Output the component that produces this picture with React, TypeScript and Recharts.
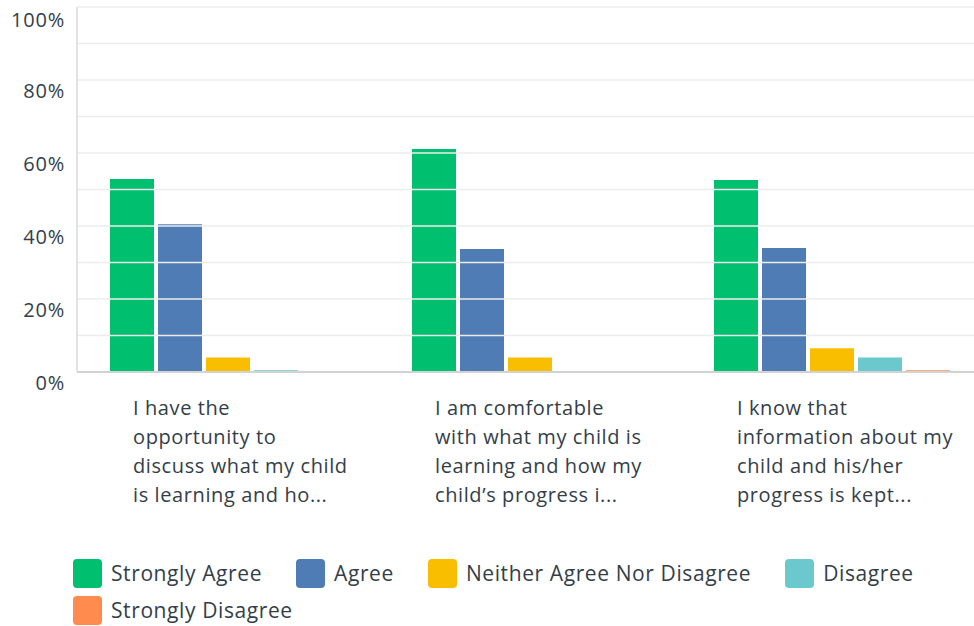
import { Bar, BarChart, CartesianGrid, ReferenceLine, XAxis, YAxis } from "recharts";

const categories = ["q1", "q2", "q3"];

const categoryLines = [
  ["I have the", "opportunity to", "discuss what my child", "is learning and ho..."],
  ["I am comfortable", "with what my child is", "learning and how my", "child’s progress i..."],
  ["I know that", "information about my", "child and his/her", "progress is kept..."],
];

const strongAgree = [52.9, 61.1, 52.6];
const agree = [40.5, 33.7, 34.0];
const neither = [4.0, 4.0, 6.5];
const disagree = [0.5, 0, 4.0];
const strongDisagree = [0, 0, 0.5];

const yTicks = [0, 20, 40, 60, 80, 100];
const gridValues = [10, 20, 30, 40, 50, 60, 70, 80, 90, 100];

const series = [
  { key: "sa", label: "Strongly Agree", color: "#00bf6f", values: strongAgree },
  { key: "a", label: "Agree", color: "#507cb6", values: agree },
  { key: "n", label: "Neither Agree Nor Disagree", color: "#f9be00", values: neither },
  { key: "d", label: "Disagree", color: "#6bc8cd", values: disagree },
  { key: "sd", label: "Strongly Disagree", color: "#ff8b4f", values: strongDisagree },
];

const data = categories.map((cat, i) => {
  const row: Record<string, string | number> = { cat };
  series.forEach((s) => {
    row[s.key] = s.values[i];
  });
  return row;
});

const FONT = "'Open Sans', Lato, sans-serif";
const TEXT = "#333e48";

function XTick({ x, y, payload }: any) {
  const idx = categories.indexOf(payload.value);
  const lines = categoryLines[idx] ?? [];
  return (
    <g>
      {lines.map((line, i) => (
        <text
          key={line}
          x={x - 95}
          y={y + 35 + i * 29}
          fill={TEXT}
          fontSize={20}
          letterSpacing={0.6}
          fontFamily={FONT}
          textAnchor="start"
        >
          {line}
        </text>
      ))}
    </g>
  );
}

function YTick({ y, payload }: any) {
  return (
    <text
      x={65}
      y={y + 10}
      fill={TEXT}
      fontSize={20}
      letterSpacing={0.8}
      fontFamily={FONT}
      textAnchor="end"
      dominantBaseline="central"
    >
      {payload.value}%
    </text>
  );
}

export default function App() {
  return (
    <div
      style={{
        position: "absolute",
        left: 0,
        top: 0,
        width: 974,
        height: 626,
        overflow: "hidden",
        background: "#fff",
      }}
    >
      <BarChart
        width={1000}
        height={626}
        data={data}
        margin={{ top: 7, right: 17, bottom: 0, left: 0 }}
        barSize={44}
        barGap={4}
      >
        <CartesianGrid horizontal={false} vertical={false} />
        {gridValues.map((v) => (
          <ReferenceLine key={`grid-${v}`} y={v} stroke="#ececec" strokeWidth={1.5} />
        ))}
        <XAxis
          dataKey="cat"
          height={254}
          tickLine={false}
          axisLine={{ stroke: "#d3d3d3", strokeWidth: 2 }}
          tick={<XTick />}
          interval={0}
        />
        <YAxis
          width={77}
          domain={[0, 100]}
          ticks={yTicks}
          tickLine={false}
          axisLine={{ stroke: "#dadada", strokeWidth: 1.5 }}
          tick={<YTick />}
        />
        {series.map((s) => (
          <Bar key={s.key} dataKey={s.key} fill={s.color} isAnimationActive={false} />
        ))}
      </BarChart>
      <div
        style={{
          position: "absolute",
          left: 73,
          top: 559,
          width: 880,
          display: "flex",
          flexWrap: "wrap",
          columnGap: 34,
          rowGap: 8,
          fontFamily: FONT,
          fontSize: 21,
          letterSpacing: 0.6,
          color: TEXT,
        }}
      >
        {series.map((s) => (
          <div key={`legend-${s.key}`} style={{ display: "flex", alignItems: "center", height: 29 }}>
            <span
              style={{
                width: 29,
                height: 29,
                borderRadius: 4,
                backgroundColor: s.color,
                marginRight: 9,
                display: "inline-block",
              }}
            />
            <span style={{ lineHeight: "29px" }}>{s.label}</span>
          </div>
        ))}
      </div>
    </div>
  );
}
